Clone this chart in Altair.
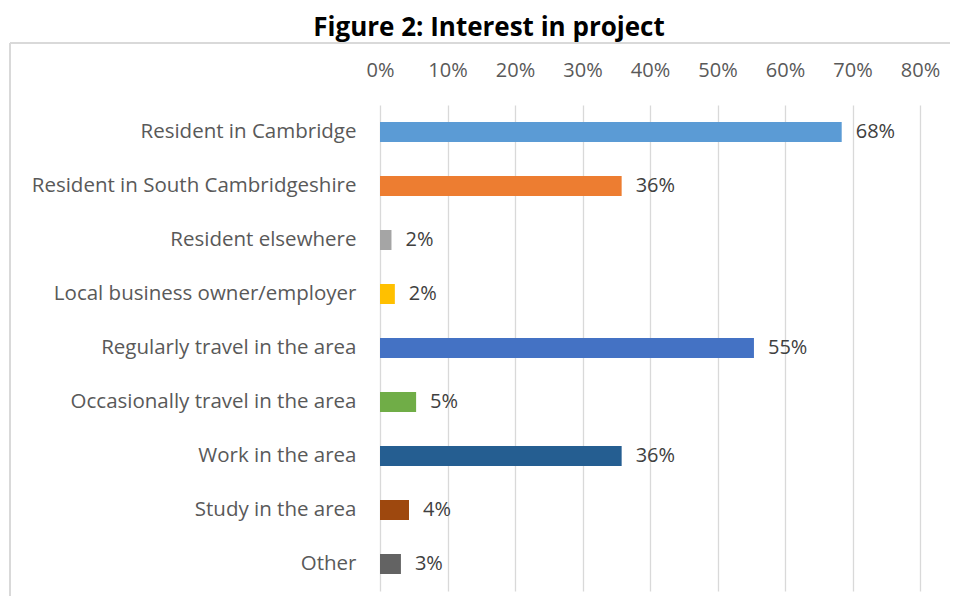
import altair as alt
import pandas as pd

categories = [
    "Resident in Cambridge",
    "Resident in South Cambridgeshire",
    "Resident elsewhere",
    "Local business owner/employer",
    "Regularly travel in the area",
    "Occasionally travel in the area",
    "Work in the area",
    "Study in the area",
    "Other",
]
values = [68.4, 35.8, 1.7, 2.2, 55.4, 5.35, 35.8, 4.3, 3.1]
labels = ["68%", "36%", "2%", "2%", "55%", "5%", "36%", "4%", "3%"]
colors = ["#5B9BD5", "#ED7D31", "#A5A5A5", "#FFC000", "#4472C4",
          "#70AD47", "#255E91", "#9E480E", "#636363"]

df = pd.DataFrame({"cat": categories, "val": values, "label": labels})

FONT = "Open Sans"

y_enc = alt.Y("cat:N", sort=categories, title=None,
              axis=alt.Axis(domain=False, ticks=False, labelPadding=24,
                            labelFontSize=20.5, labelColor="#595959",
                            labelFont=FONT, labelLimit=400))
x_enc = alt.X("val:Q", scale=alt.Scale(domain=[0, 80], nice=False), title=None,
              axis=alt.Axis(orient="top", values=[0, 10, 20, 30, 40, 50, 60, 70, 80],
                            labelExpr="datum.value + '%'", domain=False, ticks=False,
                            labelFlush=False, labelOverlap=False,
                            labelPadding=25, labelFontSize=20, labelColor="#595959",
                            labelFont=FONT, grid=True, gridColor="#D9D9D9",
                            gridWidth=1.3))

bars = alt.Chart(df).mark_bar(size=20).encode(
    x=x_enc,
    y=y_enc,
    color=alt.Color("cat:N", scale=alt.Scale(domain=categories, range=colors),
                    legend=None),
)

text = alt.Chart(df).mark_text(align="left", dx=14, fontSize=20, color="#404040",
                               font=FONT).encode(
    x="val:Q",
    y=alt.Y("cat:N", sort=categories),
    text="label:N",
)

border_left = alt.Chart(df).mark_rule(color="#D9D9D9", strokeWidth=1.5).encode(
    x=alt.value(-370), y=alt.value(-62), y2=alt.value(600))
border_top = alt.Chart(df).mark_rule(color="#D9D9D9", strokeWidth=1.5).encode(
    x=alt.value(-370), x2=alt.value(600), y=alt.value(-62))

chart = alt.layer(border_left, border_top, bars, text).properties(
    width=540,
    height=486,
    autosize=alt.AutoSizeParams(type="none"),
    padding={"left": 372, "top": 97, "right": 30, "bottom": 5},
    title=alt.TitleParams("Figure 2: Interest in project", fontSize=26,
                          font=FONT, fontWeight="bold", color="#000000",
                          anchor="middle", dx=-161, offset=1),
).configure_view(stroke=None)

chart.save("out.html", embed_options={"renderer": "svg", "actions": False})
